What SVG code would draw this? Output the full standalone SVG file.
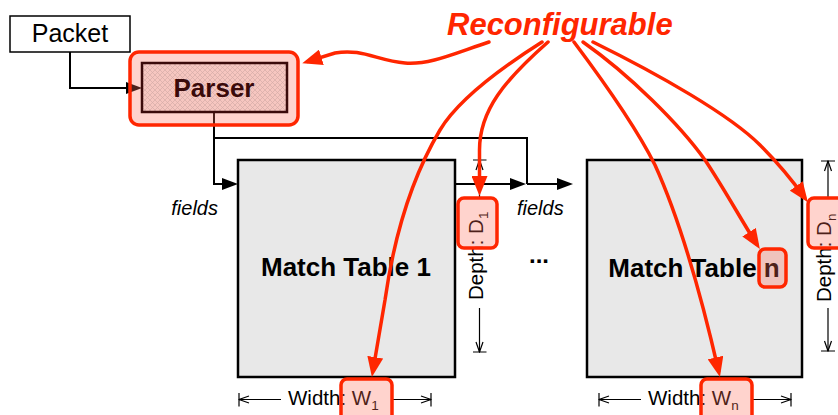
<svg xmlns="http://www.w3.org/2000/svg" width="838" height="415" viewBox="0 0 838 415">
  <style>
    text { font-family: "Liberation Sans", Arial, Helvetica, sans-serif; }
    .box { fill: #fff; stroke: #000; stroke-width: 1.5; }
    .table { fill: #e8e8e8; stroke: #000; stroke-width: 2.5; }
    .wire { fill: none; stroke: #000; stroke-width: 2; }
    .wire-arrow { fill: none; stroke: #000; stroke-width: 2; marker-end: url(#blackHead); }
    .dim { fill: none; stroke: #000; stroke-width: 1.2; marker-end: url(#dimEnd); }
    .cfg { fill: none; stroke: #ff2600; stroke-width: 3.5; stroke-linecap: round; marker-end: url(#redHead); }
    .hl { fill: #ff6e5a; fill-opacity: 0.3; stroke: #ff2600; stroke-width: 3.5; }
    .lbl { font-size: 20.5px; fill: #000; }
    .sub { font-size: 13.5px; }
    .tname { font-size: 26px; font-weight: bold; fill: #000; text-anchor: middle; }
    .it { font-style: italic; font-size: 20px; fill: #000; }
  </style>
  <defs>
    <marker id="blackHead" markerUnits="userSpaceOnUse" viewBox="0 0 16 12" refX="13" refY="6" markerWidth="16" markerHeight="12" orient="auto">
      <path d="M0,0 L16,6 L0,12 z" fill="#000"/>
    </marker>
    <marker id="redHead" markerUnits="userSpaceOnUse" viewBox="0 0 20 16" refX="14" refY="8" markerWidth="20" markerHeight="16" orient="auto">
      <path d="M0,0 L20,8 L0,16 z" fill="#ff2600"/>
    </marker>
    <marker id="dimEnd" markerUnits="userSpaceOnUse" viewBox="0 0 12 14" refX="11" refY="7" markerWidth="12" markerHeight="14" orient="auto">
      <path d="M1,3.5 L11,7 L1,10.5 M11,0 V14" fill="none" stroke="#000" stroke-width="1.2"/>
    </marker>
    <pattern id="hatch" patternUnits="userSpaceOnUse" width="5" height="5">
      <rect width="5" height="5" fill="#f6c6c0"/>
      <path d="M0,0 L5,5 M5,0 L0,5" stroke="#d6aca7" stroke-width="0.7"/>
    </pattern>
  </defs>

  <!-- data-path wiring -->
  <g id="connectors">
    <path class="wire-arrow" d="M70,52 V88 H139"/>
    <path class="wire-arrow" d="M214,113 V184 H235"/>
    <path class="wire" d="M214,138 H527 V184"/>
    <path class="wire-arrow" d="M455,184 H523"/>
    <path class="wire-arrow" d="M527,184 H570"/>
  </g>

  <g id="packet">
    <rect class="box" x="10" y="16" width="120" height="36"/>
    <text x="70" y="42" font-size="25" text-anchor="middle">Packet</text>
  </g>

  <g id="parser">
    <rect class="hl" x="130" y="52" width="168" height="73" rx="9"/>
    <rect x="142" y="63" width="145" height="49" fill="url(#hatch)" stroke="#3a0a0a" stroke-width="2.5"/>
    <text x="214" y="97" font-size="26" font-weight="bold" fill="#3a0a0a" text-anchor="middle">Parser</text>
  </g>

  <g id="fields-labels">
    <text class="it" x="218" y="215" text-anchor="end">fields</text>
    <text class="it" x="517" y="215">fields</text>
  </g>

  <g id="table-1">
    <rect class="table" x="238" y="160" width="217" height="217"/>
    <text class="tname" x="346" y="276">Match Table 1</text>
  </g>

  <g id="ellipsis">
    <text x="539" y="263" font-size="24" font-weight="bold" text-anchor="middle">...</text>
  </g>

  <g id="table-n">
    <rect class="table" x="587" y="160" width="215" height="217"/>
    <text class="tname" x="694" y="277">Match Table n</text>
  </g>

  <!-- size dimensions of table 1 -->
  <g id="dims-1">
    <path class="dim" d="M281,399.5 H239"/>
    <path class="dim" d="M392,399.5 H431"/>
    <text class="lbl" x="288" y="404.5">Width: W<tspan class="sub" dy="5">1</tspan></text>
    <path class="dim" d="M479.5,198 V160"/>
    <path class="dim" d="M479.5,308 V352"/>
    <text class="lbl" transform="translate(483,300) rotate(-90)">Depth: D<tspan class="sub" dy="5">1</tspan></text>
  </g>

  <!-- size dimensions of table n -->
  <g id="dims-n">
    <path class="dim" d="M641,399.5 H599"/>
    <path class="dim" d="M752,399.5 H791"/>
    <text class="lbl" x="648" y="404.5">Width: W<tspan class="sub" dy="5">n</tspan></text>
    <path class="dim" d="M828,198 V161"/>
    <path class="dim" d="M828,308 V351"/>
    <text class="lbl" transform="translate(831,302) rotate(-90)">Depth: D<tspan class="sub" dy="5">n</tspan></text>
  </g>

  <!-- highlighted reconfigurable parameters -->
  <g id="highlights">
    <rect class="hl" x="458" y="198" width="39" height="50" rx="6"/>
    <rect class="hl" x="341" y="379" width="51" height="44" rx="6"/>
    <rect class="hl" x="759" y="249" width="27" height="38" rx="6"/>
    <rect class="hl" x="701" y="379" width="51" height="44" rx="6"/>
    <rect class="hl" x="808" y="198" width="44" height="50" rx="6"/>
  </g>

  <g id="reconfigurable">
    <text x="447" y="35" font-size="31" font-weight="bold" font-style="italic" fill="#ff2600">Reconfigurable</text>
  </g>

  <g id="config-arrows">
    <path class="cfg" d="M489,42 C455,53 430,65 405,63 C378,61 362,48 335,53 L308,61.4"/>
    <path class="cfg" d="M542,42 C490,75 455,105 440,130 C415,172 395,230 385,300 L372.9,371"/>
    <path class="cfg" d="M548,42 C505,80 479.5,110 479.5,150 L479.5,190"/>
    <path class="cfg" d="M574,42 C610,90 640,135 655,165 C680,220 700,290 718.6,371.2"/>
    <path class="cfg" d="M583,42 C630,75 680,125 705,160 C725,190 740,218 756.6,244"/>
    <path class="cfg" d="M593,42 C660,75 730,115 760,145 C778,163 792,180 804.4,197.3"/>
  </g>
</svg>
